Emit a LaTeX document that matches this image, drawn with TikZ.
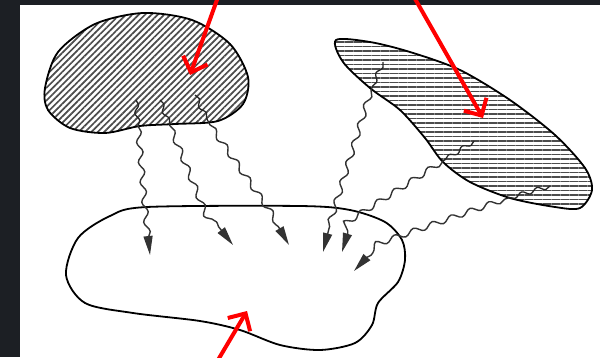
\documentclass[tikz,border=0pt]{standalone}
\usetikzlibrary{patterns.meta,decorations.pathmorphing,arrows.meta}
\definecolor{frame}{RGB}{28,31,36}

\begin{document}
\begin{tikzpicture}[x=1pt,y=-1pt,
        outline/.style={black, line width=1.8pt},
        ray/.style={black!80, line width=1.4pt, decorate,
            decoration={snake, segment length=20pt, amplitude=2.8pt, post length=17pt},
            -{Triangle[length=19pt,width=9pt]}},
        kink/.style={black!85, line width=1.3pt, decorate,
            decoration={snake, segment length=16pt, amplitude=2.2pt}},
        pointer/.style={red, line width=4pt, -{Straight Barb[length=13pt,width=26pt]}}]
        % page frame: dark strip left and top
        \fill[frame] (0,0) rectangle (600,357);
        \fill[white] (20,5) rectangle (600,357);
        \useasboundingbox (0,0) rectangle (600,357);

        % source bodies
        \draw[outline, pattern={Lines[angle=45,distance=4.5pt,line width=1.7pt]}, pattern color=black!70]
            plot[smooth cycle] coordinates {(45,88) (58,52) (95,24) (143,13) (192,20) (230,44)
                (248,77) (243,104) (218,121) (175,124) (140,126) (105,133) (70,128) (48,110)};
        \draw[outline, pattern={Lines[angle=0,distance=4.5pt,line width=1.7pt]}, pattern color=black!70]
            plot[smooth cycle] coordinates {(336,40) (370,42) (410,52) (460,70) (510,100) (555,135)
                (585,168) (592,190) (580,208) (555,207) (510,198) (470,182) (443,162)
                (425,138) (400,110) (370,88) (343,62)};

        % receiving body
        \draw[outline]
            plot[smooth cycle] coordinates {(147,207) (300,206) (350,210) (385,222) (402,240)
                (405,260) (398,282) (378,303) (372,325) (355,343) (320,350) (280,345)
                (240,330) (200,321) (133,313) (85,303) (66,275) (78,238) (110,216)};

        % emission points, bends and targets
        \coordinate (l1) at (138,126); \coordinate (l1m) at (145,207); \coordinate (l1t) at (150,255);
        \coordinate (l2) at (170,126); \coordinate (l2m) at (203,207); \coordinate (l2t) at (233,245);
        \coordinate (l3) at (210,125); \coordinate (l3m) at (267,207); \coordinate (l3t) at (289,245);
        \coordinate (r1) at (371,90);  \coordinate (r1m) at (333,213); \coordinate (r1t) at (323,252);
        \coordinate (r2) at (443,161); \coordinate (r2m) at (352,219); \coordinate (r2t) at (342,252);
        \coordinate (r3) at (505,199); \coordinate (r3m) at (380,243); \coordinate (r3t) at (354,271);

        % short kinks inside the sources
        \foreach \a/\b in {{(136,100)}/l1, {(160,100)}/l2, {(195,95)}/l3, {(383,62)}/r1, {(474,141)}/r2, {(550,186)}/r3} {
            \draw[kink] \a -- (\b);
        }

        % radiation rays
        \foreach \s in {l1,l2,l3,r1,r2,r3} {
            \draw[ray] (\s) -- (\s m) -- (\s t);
        }

        % red markers
        \coordinate (p1) at (218,-3);  \coordinate (p1t) at (190,75);
        \coordinate (p2) at (414,-3);  \coordinate (p2t) at (483,118);
        \coordinate (p3) at (218,360); \coordinate (p3t) at (247,311);
        \draw[pointer] (p1) -- (p1t);
        \draw[pointer] (p2) -- (p2t);
        \draw[pointer] (p3) -- (p3t);
    \end{tikzpicture}
\end{document}
